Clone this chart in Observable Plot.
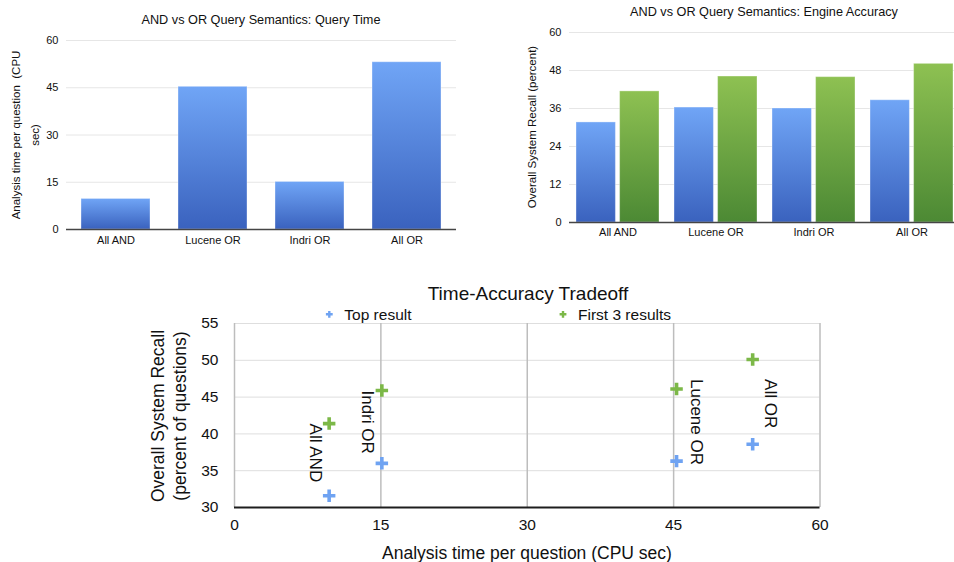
<!DOCTYPE html>
<html>
<head>
<meta charset="utf-8">
<script src="https://cdn.jsdelivr.net/npm/d3@7"></script>
<script src="https://cdn.jsdelivr.net/npm/@observablehq/plot@0.6"></script>
<style>
html, body { margin: 0; padding: 0; background: #fff; overflow: hidden; }
#root { position: relative; width: 954px; height: 562px; overflow: hidden; background: #fff;
        font-family: "Liberation Sans", Arial, Helvetica, sans-serif; }
#root svg { position: absolute; max-width: none; }
</style>
</head>
<body>
<div id="root"></div>
<script>
// ---------------- data ----------------
const categories = ["All AND", "Lucene OR", "Indri OR", "All OR"];
const queryTime = [9.7, 45.3, 15.1, 53.1];          // CPU sec per question
const recallTop = [31.6, 36.3, 36.0, 38.6];         // Top result recall (%)
const recallFirst3 = [41.4, 46.1, 45.9, 50.1];      // First 3 results recall (%)
const seriesNames = ["Top result", "First 3 results"];
const timeTicks = [0, 15, 30, 45, 60];
const recallTicks = [0, 12, 24, 36, 48, 60];
const tradeoffXTicks = [0, 15, 30, 45, 60];
const tradeoffYTicks = [30, 35, 40, 45, 50, 55];
const titles = [
  "AND vs OR Query Semantics: Query Time",
  "AND vs OR Query Semantics: Engine Accuracy",
  "Time-Accuracy Tradeoff"
];
const axisLabels = {
  time: ["Analysis time per question  (CPU", "sec)"],
  recall: "Overall System Recall (percent)",
  tradeoffX: "Analysis time per question (CPU sec)",
  tradeoffY: ["Overall System Recall", "(percent of questions)"]
};

// ---------------- helpers ----------------
const FONT = '"Liberation Sans", Arial, Helvetica, sans-serif';
const BLUE_TOP = "#70a5f6", BLUE_BOT = "#3a62be";
const GREEN_TOP = "#8ec152", GREEN_BOT = "#4c8934";
const BLUE_MARK = "#6fa3f2", GREEN_MARK = "#7cb848";
const root = document.getElementById("root");

function place(svg, left, top) {
  svg.style.left = left + "px";
  svg.style.top = top + "px";
  root.appendChild(svg);
  return svg;
}
function addGradient(svg, id, top, bottom) {
  let defs = d3.select(svg).select("defs");
  if (defs.empty()) defs = d3.select(svg).insert("defs", ":first-child");
  const g = defs.append("linearGradient").attr("id", id)
    .attr("x1", 0).attr("y1", 0).attr("x2", 0).attr("y2", 1);
  g.append("stop").attr("offset", 0).attr("stop-color", top);
  g.append("stop").attr("offset", 1).attr("stop-color", bottom);
}
function addText(svg, txt, x, y, size, anchor = "middle") {
  return d3.select(svg).append("text")
    .attr("x", x).attr("y", y)
    .attr("text-anchor", anchor)
    .attr("font-family", FONT).attr("font-size", size)
    .attr("fill", "#111").text(txt);
}
function addRotLabel(svg, lines, x, y, size, spacing, angle = -90) {
  const t = d3.select(svg).append("text")
    .attr("transform", `translate(${x},${y}) rotate(${angle})`)
    .attr("text-anchor", "middle")
    .attr("font-family", FONT).attr("font-size", size).attr("fill", "#111");
  lines.forEach((l, i) => t.append("tspan").attr("x", 0).attr("dy", i === 0 ? 0 : spacing).text(l));
  return t;
}

// ---------------- chart 1: query time ----------------
const timeData = categories.map((c, i) => ({category: c, time: queryTime[i]}));
const chart1 = Plot.plot({
  width: 470, height: 260,
  marginLeft: 66, marginRight: 14, marginTop: 40, marginBottom: 31,
  style: {fontFamily: FONT, fontSize: "11px", color: "#111", background: "transparent", overflow: "visible"},
  x: {domain: categories, paddingInner: 0.29, paddingOuter: 0.145, tickSize: 0, tickPadding: 7, label: null},
  y: {domain: [0, 60], ticks: timeTicks, tickSize: 0, tickPadding: 8, label: null},
  marks: [
    Plot.ruleY(timeTicks.filter(d => d > 0), {stroke: "#e6e6e6", strokeWidth: 1}),
    Plot.barY(timeData, {x: "category", y: "time", fill: "url(#gBlue1)", stroke: "#ffffff", strokeOpacity: 0.35, strokeWidth: 1}),
    Plot.ruleY([0], {stroke: "#454545", strokeWidth: 1.5})
  ]
});
addGradient(chart1, "gBlue1", BLUE_TOP, BLUE_BOT);
addText(chart1, titles[0], 261, 24.3, "12.7px");
addRotLabel(chart1, axisLabels.time, 19.5, 135, "11.5px", 19);
place(chart1, 0, 0);

// ---------------- chart 2: engine accuracy ----------------
const accData = categories.map((c, i) => ({category: c, top: recallTop[i], first3: recallFirst3[i]}));
const c2 = {width: 480, marginLeft: 89, marginRight: 0, pi: 0.156, po: 0.071, gap: 4.4};
const c2step = (c2.width - c2.marginLeft - c2.marginRight) / (categories.length - c2.pi + 2 * c2.po);
const c2bw = c2step * (1 - c2.pi);
const c2inset = c2bw / 2 + c2.gap / 2;
const chart2 = Plot.plot({
  width: c2.width, height: 250,
  marginLeft: c2.marginLeft, marginRight: c2.marginRight, marginTop: 32, marginBottom: 28,
  style: {fontFamily: FONT, fontSize: "11px", color: "#111", background: "transparent", overflow: "visible"},
  x: {domain: categories, paddingInner: c2.pi, paddingOuter: c2.po, tickSize: 0, tickPadding: 6, label: null},
  y: {domain: [0, 60], ticks: recallTicks, tickSize: 0, tickPadding: 8, label: null},
  marks: [
    Plot.ruleY(recallTicks.filter(d => d > 0), {stroke: "#e6e6e6", strokeWidth: 1}),
    Plot.barY(accData, {x: "category", y: "top", insetRight: c2inset, fill: "url(#gBlue2)", stroke: "#ffffff", strokeOpacity: 0.35, strokeWidth: 1}),
    Plot.barY(accData, {x: "category", y: "first3", insetLeft: c2inset, fill: "url(#gGreen2)", stroke: "#ffffff", strokeOpacity: 0.35, strokeWidth: 1}),
    Plot.ruleY([0], {stroke: "#454545", strokeWidth: 1.5})
  ]
});
addGradient(chart2, "gBlue2", BLUE_TOP, BLUE_BOT);
addGradient(chart2, "gGreen2", GREEN_TOP, GREEN_BOT);
addText(chart2, titles[1], 284, 15.8, "12.7px");
addRotLabel(chart2, [axisLabels.recall], 56, 127, "11.5px", 0);
place(chart2, 480, 0);

// ---------------- chart 3: time-accuracy tradeoff ----------------
const topPts = categories.map((c, i) => ({category: c, time: queryTime[i], recall: recallTop[i]}));
const firstPts = categories.map((c, i) => ({category: c, time: queryTime[i], recall: recallFirst3[i]}));
// label offsets (screen px) relative to each First-3 point
const labelOffset = {
  "All AND":  {dx: -13.5, dy: 0},
  "Lucene OR": {dx: 20, dy: -10},
  "Indri OR": {dx: -14, dy: 0},
  "All OR":   {dx: 18, dy: 19.5}
};
const labelMarks = firstPts.map(p => Plot.text([p], {
  x: "time", y: "recall", text: "category",
  rotate: 90, textAnchor: "start", lineAnchor: "middle",
  dx: labelOffset[p.category].dx, dy: labelOffset[p.category].dy,
  fontSize: 17, fill: "#111"
}));
const chart3 = Plot.plot({
  width: 954, height: 302,
  marginLeft: 234, marginRight: 134.5, marginTop: 63, marginBottom: 55,
  style: {fontFamily: FONT, fontSize: "15.5px", color: "#111", background: "transparent", overflow: "visible"},
  x: {domain: [0, 60], ticks: tradeoffXTicks, tickSize: 0, tickPadding: 11, label: null},
  y: {domain: [30, 55], ticks: tradeoffYTicks, tickSize: 0, tickPadding: 16, label: null},
  marks: [
    Plot.ruleY(tradeoffYTicks.filter(d => d > 30), {stroke: "#dedede", strokeWidth: 1}),
    Plot.ruleX(tradeoffXTicks, {stroke: "#bdbdbd", strokeWidth: 1.5}),
    Plot.ruleY([30], {stroke: "#1e1e1e", strokeWidth: 2}),
    Plot.dot(topPts, {x: "time", y: "recall", symbol: "plus", r: 4.1, fill: "none", stroke: BLUE_MARK, strokeWidth: 3.6}),
    Plot.dot(firstPts, {x: "time", y: "recall", symbol: "plus", r: 4.1, fill: "none", stroke: GREEN_MARK, strokeWidth: 3.6}),
    ...labelMarks
  ]
});
addText(chart3, titles[2], 528, 40, "19px");
// legend
const legend = [
  {name: seriesNames[0], color: BLUE_MARK, x: 329.3},
  {name: seriesNames[1], color: GREEN_MARK, x: 563}
];
legend.forEach(l => {
  d3.select(chart3).append("path")
    .attr("d", `M${l.x - 3.4},54.3H${l.x + 3.4}M${l.x},50.9V57.7`)
    .attr("stroke", l.color).attr("stroke-width", 2.4).attr("fill", "none");
  addText(chart3, l.name, l.x + 15, 60, "15.5px", "start");
});
addText(chart3, axisLabels.tradeoffX, 527, 299, "17.5px");
addRotLabel(chart3, axisLabels.tradeoffY, 164, 156, "17.5px", 22);
place(chart3, 0, 260);
</script>
</body>
</html>
